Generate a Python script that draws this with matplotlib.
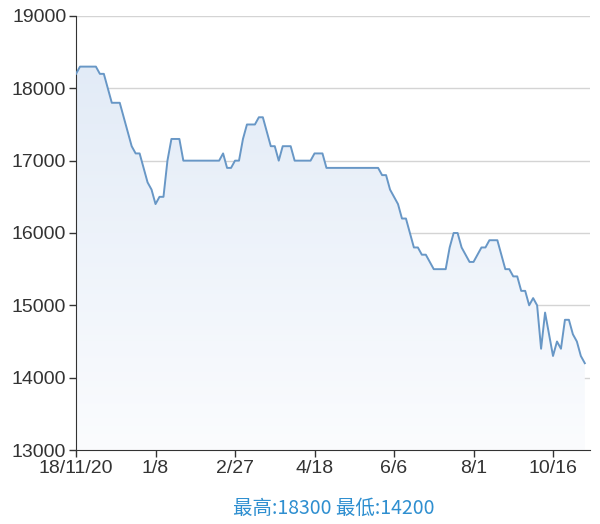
import matplotlib
matplotlib.use('Agg')
import matplotlib.pyplot as plt
import numpy as np
from matplotlib.colors import LinearSegmentedColormap

plt.rcParams['font.family'] = ['Liberation Sans', 'DejaVu Sans']

# price series (one value per step on the category axis)
prices = [
    18200, 18300, 18300, 18300, 18300, 18300, 18200, 18200, 18000, 17800,
    17800, 17800, 17600, 17400, 17200, 17100, 17100, 16900, 16700, 16600,
    16400, 16500, 16500, 17000, 17300, 17300, 17300, 17000, 17000, 17000,
    17000, 17000, 17000, 17000, 17000, 17000, 17000, 17100, 16900, 16900,
    17000, 17000, 17300, 17500, 17500, 17500, 17600, 17600, 17400, 17200,
    17200, 17000, 17200, 17200, 17200, 17000, 17000, 17000, 17000, 17000,
    17100, 17100, 17100, 16900, 16900, 16900, 16900, 16900, 16900, 16900,
    16900, 16900, 16900, 16900, 16900, 16900, 16900, 16800, 16800, 16600,
    16500, 16400, 16200, 16200, 16000, 15800, 15800, 15700, 15700, 15600,
    15500, 15500, 15500, 15500, 15800, 16000, 16000, 15800, 15700, 15600,
    15600, 15700, 15800, 15800, 15900, 15900, 15900, 15700, 15500, 15500,
    15400, 15400, 15200, 15200, 15000, 15100, 15000, 14400, 14900, 14600,
    14300, 14500, 14400, 14800, 14800, 14600, 14500, 14300, 14200,
]
tick_pos = [0, 20, 40, 60, 80, 100, 120]
tick_labels = ['18/11/20', '1/8', '2/27', '4/18', '6/6', '8/1', '10/16']
y_ticks = [13000, 14000, 15000, 16000, 17000, 18000, 19000]
caption = '最高:18300 最低:14200'

x = np.arange(len(prices))
y = np.array(prices)

fig = plt.figure(figsize=(6, 5.24), dpi=100)
ax = fig.add_axes([0.1267, 0.1412, 0.8566, 0.8283])

ymin, ymax = 13000, 19000
xmax = 129.3
ax.set_xlim(0, xmax)
ax.set_ylim(ymin, ymax)

# gradient fill under the line
cmap = LinearSegmentedColormap.from_list('fill', ['#fbfcfe', '#dfe9f6'])
grad = np.linspace(0, 1, 256).reshape(-1, 1)
img = ax.imshow(grad, extent=[0, x[-1], ymin, ymax], origin='lower',
                cmap=cmap, aspect='auto', zorder=1)
poly = ax.fill_between(x, y, ymin, color='none', lw=0)
clip = poly.get_paths()[0]
img.set_clip_path(clip, transform=ax.transData)

ax.plot(x, y, color='#6897c6', lw=1.4, zorder=3)

for v in y_ticks[1:]:
    ax.axhline(v, color='#d4d4d4', lw=1, zorder=0.5)

ax.set_yticks(y_ticks)
ax.set_xticks(tick_pos)
ax.set_xticklabels(tick_labels)
ax.tick_params(axis='both', labelsize=14, colors='#333333', length=5, width=1, direction='out')
ax.tick_params(axis='x', pad=2)
ax.tick_params(axis='y', pad=2)
for s in ['top', 'right']:
    ax.spines[s].set_visible(False)
ax.spines['left'].set_color('#333333')
ax.spines['bottom'].set_color('#333333')

fig.text(0.556, 0.03, caption, ha='center', va='center', fontsize=14,
         color='#2f8fd0', family=['Noto Sans CJK SC', 'DejaVu Sans'])

fig.savefig('out.png', dpi=100)
